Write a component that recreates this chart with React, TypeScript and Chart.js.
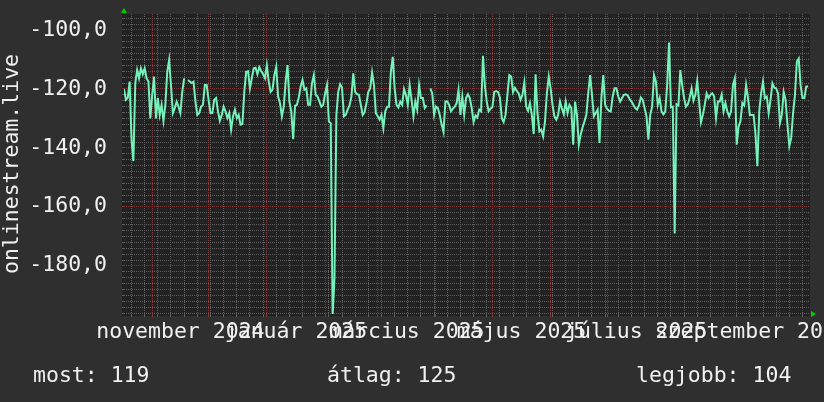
import React, { useEffect, useRef } from 'react';
import { Chart, registerables } from 'chart.js';

Chart.register(...registerables);

// Daily values, first day = 17 October 2024
const oct2024 = [-120, -123.7, -123, -117.5, -137, -144.5, -118, -113.6, -116.4, -113, -115, -113, -116.4, -117.5, -130];
const nov2024 = [-122, -115.8, -130, -123, -128.8, -125.4, -130.8, -125.4, -114.2, -110.2, -118.7, -128.2, -126.5, -124.3, -126, -128.2, -121, -116.4, null, -117, -117.5, -118, -117.5, -124.3, -128.8, -128.2, -126, -125.4, -118.7, -118.7];
const dec2024 = [-123.7, -128.2, -128.2, -123.7, -123.1, -127.6, -130.8, -128.8, -126, -127.6, -129.9, -128.2, -133.8, -129.3, -127, -129.9, -128.8, -132.1, -131.9, -121, -114.2, -114, -119.8, -116.4, -113, -112.8, -115, -112.6, -114, -115, -116.4];
const jan2025 = [-111.9, -117.5, -121, -120.3, -115.3, -112.5, -122.6, -124.8, -129.3, -126, -117.5, -111.9, -124.3, -127.6, -137, -125.7, -125.4, -122.9, -119.2, -117, -120.3, -119.8, -125.4, -125.4, -118.1, -115.3, -122, -122.6, -124.3, -126, -125.4];
const feb2025 = [-121.5, -118.7, -131, -131.6, -197, -184, -128.8, -121, -118.4, -119.5, -129.3, -128.8, -127, -125.6, -122.6, -114.7, -121, -121.8, -122, -125.4, -128.8, -127.9, -124.8, -121, -119.8, -114.4, -118.7, -128.2];
const mar2025 = [-129.3, -130.4, -128.8, -133.3, -127.6, -126, -126, -114.2, -109.1, -119.8, -125.4, -126.3, -124.3, -125.4, -120, -122, -125.4, -118.7, -123.7, -129.3, -124.3, -127, -118.7, -123.1, -123.1, -126.5, -125.6, null, -119.8, -121.5, -128.8];
const apr2025 = [-126, -126.5, -128.8, -132.1, -134.6, -124.3, -124.3, -125.4, -127.6, -126.7, -126, -124.8, -120.3, -128.8, -122.6, -128.8, -123.1, -121.8, -123.1, -126.5, -131.2, -129, -129.7, -127, -127.6, -108.8, -118.7, -124.3, -127.6, -126.7];
const may2025 = [-126.2, -121, -120.7, -121, -122.9, -129.9, -131.2, -128.8, -122, -115.3, -115.8, -121.1, -119.6, -120.7, -121.5, -123.7, -122, -117.8, -126, -127.4, -124.8, -128.8, -135.3, -115, -128.2, -134.4, -133.8, -136.1, -131, -121.5, -115.8];
const jun2025 = [-119.8, -125.4, -129.3, -130.4, -128.8, -124.3, -126.7, -128.6, -124.3, -128.2, -125.4, -126.5, -138.9, -124.3, -128.8, -138.9, -135.5, -133, -131, -128.8, -121.5, -115.3, -122, -129.3, -128.2, -127, -138.3, -123.1, -115.3, -125.4];
const jul2025 = [-126.7, -127.4, -127.6, -122.6, -119.8, -119.8, -122.6, -124.3, -123.1, -122, -121.8, -122.2, -123.4, -124.3, -125.4, -126.5, -127, -125.6, -122.9, -123.7, -126.5, -129.3, -137.2, -128.8, -126, -115.3, -117.5, -125.4, -123.1, -127.6, -128.6];
const aug2025 = [-127.6, -118.7, -104.3, -126.2, -126, -169, -125.2, -125.6, -113.6, -118.7, -123.1, -126, -125.2, -122.9, -119.8, -124, -122, -117.3, -124.3, -131.3, -128.8, -125.4, -121.5, -123.1, -122, -121.5, -122.6, -129.9, -124.3, -124.3, -122];
const sep2025 = [-127.6, -124.8, -127.6, -129.3, -127.6, -118.7, -116.4, -138.9, -132.7, -131, -124.8, -125.6, -118.7, -123.1, -128.8, -128.8, -128.8, -135.5, -146.2, -127.6, -121.5, -117.5, -123.1, -122.6, -128.2, -123.7, -118.1, -119.6, -119.8, -121.5];
const oct2025 = [-131.6, -128.8, -121, -123.7, -132.1, -139.4, -136.6, -128.2, -122, -110.8, -109.7, -118.7, -123.1, -123.1, -119.2, -119.2];

const monthSeries = [oct2024, nov2024, dec2024, jan2025, feb2025, mar2025, apr2025, may2025, jun2025, jul2025, aug2025, sep2025, oct2025];
const monthLengths = [31, 30, 31, 31, 28, 31, 30, 31, 30, 31, 31, 30, 31];

const xLabels = ['november 2024', 'január 2025', 'március 2025', 'május 2025', 'július 2025', 'szeptember 2025'];
const xLabelMonthIndex = [1, 3, 5, 7, 9, 11];
const yLabelValues = [-100, -120, -140, -160, -180];
const yTitle = 'onlinestream.live';
const legendTexts = ['most: 119', 'átlag: 125', 'legjobb: 104'];

const TOTAL_DAYS = 365;
const FIRST_MONDAY = 4;
const Y_MIN = -196.3;
const Y_MAX = -94.6;

const BG = '#2f2f2f';
const PLOT_BG = '#222222';
const TEXT = '#f0f0f0';
const LINE = '#74f2ba';
const MINOR = '#5e5e5e';
const MAJOR = '#7e3636';
const ARROW = '#00d000';
const FONT = { family: 'DejaVu Sans Mono', size: 21.5 };

export default function App() {
  const ref = useRef<HTMLCanvasElement | null>(null);

  useEffect(() => {
    const canvas = ref.current;
    if (!canvas) return;

    const values: (number | null)[] = ([] as (number | null)[]).concat(...monthSeries);
    const points = values.map((v, i) => ({ x: i, y: v }));

    const monthStarts: number[] = [];
    let acc = 0;
    monthSeries.forEach((m, i) => {
      if (i > 0) monthStarts.push(acc);
      acc += m.length;
    });
    const startOf = (mi: number) => (mi === 0 ? 0 : monthStarts[mi - 1]);

    const xTicks: any[] = [];
    for (let d = FIRST_MONDAY; d < TOTAL_DAYS; d += 7) {
      if (!monthStarts.includes(d)) xTicks.push({ value: d, kind: 'minor', lbl: '' });
    }
    monthStarts.forEach((d) => xTicks.push({ value: d, kind: 'major', lbl: '' }));
    xLabelMonthIndex.forEach((mi, k) => {
      xTicks.push({ value: startOf(mi) + monthLengths[mi] / 2, kind: 'label', lbl: xLabels[k] });
    });
    xTicks.sort((a, b) => a.value - b.value);

    const yTicks: any[] = [];
    for (let v = -196; v <= -96; v += 2) {
      const major = v % 20 === 0;
      yTicks.push({
        value: v,
        kind: major ? 'major' : 'minor',
        lbl: yLabelValues.includes(v) ? v.toFixed(1).replace('.', ',') : '',
      });
    }

    const decor = {
      id: 'decor',
      beforeDraw(chart: any) {
        const { ctx, chartArea: a } = chart;
        ctx.save();
        ctx.fillStyle = BG;
        ctx.fillRect(0, 0, chart.width, chart.height);
        ctx.fillStyle = PLOT_BG;
        ctx.fillRect(a.left - 2, a.top, a.right - a.left + 2, a.bottom - a.top + 2);
        ctx.restore();
      },
      afterDraw(chart: any) {
        const { ctx, chartArea: a } = chart;
        ctx.save();
        ctx.fillStyle = ARROW;
        ctx.beginPath();
        ctx.moveTo(a.left - 3, a.top - 1);
        ctx.lineTo(a.left + 3, a.top - 1);
        ctx.lineTo(a.left, a.top - 6);
        ctx.closePath();
        ctx.fill();
        ctx.beginPath();
        ctx.moveTo(a.right + 1, a.bottom - 3);
        ctx.lineTo(a.right + 1, a.bottom + 3);
        ctx.lineTo(a.right + 6, a.bottom);
        ctx.closePath();
        ctx.fill();
        ctx.fillStyle = TEXT;
        ctx.font = `${FONT.size}px "${FONT.family}"`;
        ctx.textBaseline = 'alphabetic';
        ctx.textAlign = 'left';
        ctx.fillText(legendTexts[0], 33, 382);
        ctx.fillText(legendTexts[1], 327, 382);
        ctx.fillText(legendTexts[2], 636, 382);
        ctx.restore();
      },
    };

    const gridColor = (c: any) => {
      const k = c.tick && c.tick.kind;
      if (k === 'major') return MAJOR;
      if (k === 'minor') return MINOR;
      return 'rgba(0,0,0,0)';
    };

    const chart = new Chart(canvas, {
      type: 'line',
      data: {
        datasets: [
          {
            data: points as any,
            borderColor: LINE,
            borderWidth: 2,
            pointRadius: 0,
            tension: 0,
            spanGaps: false,
          },
        ],
      },
      options: {
        animation: false,
        responsive: false,
        devicePixelRatio: 1,
        layout: { padding: { left: 0, right: 14, top: 14, bottom: 50 }, autoPadding: false },
        plugins: { legend: { display: false }, tooltip: { enabled: false } },
        scales: {
          x: {
            type: 'linear',
            min: 0,
            max: TOTAL_DAYS,
            afterBuildTicks: (s: any) => {
              s.ticks = xTicks;
            },
            afterFit: (s: any) => {
              s.height = 38;
              s.paddingLeft = 0;
              s.paddingRight = 0;
              s.paddingTop = 0;
              s.paddingBottom = 0;
            },
            ticks: {
              autoSkip: false,
              maxRotation: 0,
              minRotation: 0,
              color: TEXT,
              font: FONT,
              padding: 3,
              callback: (_v: any, i: number, t: any[]) => t[i].lbl,
            },
            grid: {
              color: gridColor,
              tickColor: gridColor,
              lineWidth: 1,
              drawTicks: true,
              tickLength: 3,
            },
            border: { display: false, dash: [1, 1] },
          },
          y: {
            type: 'linear',
            min: Y_MIN,
            max: Y_MAX,
            afterBuildTicks: (s: any) => {
              s.ticks = yTicks;
            },
            afterFit: (s: any) => {
              s.width = 124;
              s.paddingTop = 0;
              s.paddingBottom = 0;
              s.paddingLeft = 0;
              s.paddingRight = 0;
            },
            ticks: {
              autoSkip: false,
              color: TEXT,
              font: FONT,
              padding: 15,
              callback: (_v: any, i: number, t: any[]) => t[i].lbl,
            },
            grid: {
              color: gridColor,
              tickColor: gridColor,
              lineWidth: 1,
              drawTicks: true,
              tickLength: 2,
            },
            border: { display: false, dash: [1, 1] },
            title: {
              display: true,
              text: yTitle,
              color: TEXT,
              font: FONT,
              padding: 0,
            },
          },
        },
      },
      plugins: [decor],
    } as any);

    return () => chart.destroy();
  }, []);

  return (
    <div style={{ position: 'fixed', left: 0, top: 0, width: 824, height: 402, background: BG }}>
      <canvas ref={ref} width={824} height={402} style={{ display: 'block', width: 824, height: 402 }} />
    </div>
  );
}
